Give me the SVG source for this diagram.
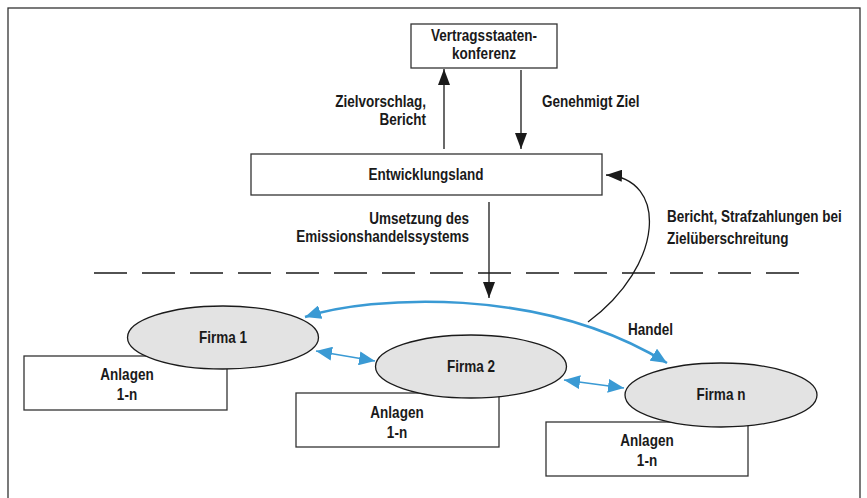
<svg xmlns="http://www.w3.org/2000/svg" width="867" height="498" viewBox="0 0 867 498">
<defs>
<style>
text{font-family:"Liberation Sans",Arial,sans-serif;font-weight:bold;font-size:16px;fill:#1a1a1a}
.c{text-anchor:middle}
.r{text-anchor:end}
.box{fill:#fff;stroke:#333;stroke-width:1.3}
.ell{fill:#e3e3e3;stroke:#1a1a1a;stroke-width:1.3}
.bl{fill:none;stroke:#1a1a1a;stroke-width:1.3}
.blue{fill:none;stroke:#3a9ad4}
</style>
<marker id="ab" markerUnits="userSpaceOnUse" markerWidth="16" markerHeight="12" refX="16" refY="6" orient="auto"><path d="M0,0 L16,6 L0,12 z" fill="#1a1a1a"/></marker>
<marker id="au" markerUnits="userSpaceOnUse" markerWidth="16" markerHeight="14" refX="16" refY="7" orient="auto-start-reverse"><path d="M0,0 L16,7 L0,14 z" fill="#3a9ad4"/></marker>
</defs>
<rect x="8" y="8" width="852" height="500" fill="none" stroke="#333" stroke-width="1.3"/>
<g id="connectors">
<line class="bl" x1="444" y1="149" x2="444" y2="69" marker-end="url(#ab)"/>
<line class="bl" x1="521" y1="70" x2="521" y2="149" marker-end="url(#ab)"/>
<line class="bl" x1="489" y1="202" x2="489" y2="298" marker-end="url(#ab)"/>
<path class="bl" d="M588,322 C665,265 668,178 606,175" marker-end="url(#ab)"/>
<line x1="94" y1="273" x2="799" y2="273" stroke="#1a1a1a" stroke-width="1.3" stroke-dasharray="33 15"/>
<path class="blue" stroke-width="2.5" d="M305,317 C370,296 540,285 667,363" marker-start="url(#au)" marker-end="url(#au)"/>
<line class="blue" stroke-width="1.5" x1="316" y1="351" x2="375" y2="361" marker-start="url(#au)" marker-end="url(#au)"/>
<line class="blue" stroke-width="1.5" x1="564" y1="380" x2="624" y2="388" marker-start="url(#au)" marker-end="url(#au)"/>
<text transform="translate(426 106.5) scale(0.845 1)" class="r">Zielvorschlag,</text>
<text transform="translate(426 124.5) scale(0.845 1)" class="r">Bericht</text>
<text transform="translate(542 106.5) scale(0.845 1)">Genehmigt Ziel</text>
<text transform="translate(469 224) scale(0.845 1)" class="r">Umsetzung des</text>
<text transform="translate(469 242) scale(0.845 1)" class="r">Emissionshandelssystems</text>
<text transform="translate(667 222) scale(0.845 1)">Bericht, Strafzahlungen bei</text>
<text transform="translate(667 244) scale(0.845 1)">Zielüberschreitung</text>
<text transform="translate(628 335) scale(0.845 1)">Handel</text>
</g>
<g id="vsk">
<rect class="box" x="411" y="24" width="146" height="44"/>
<text transform="translate(484 40.5) scale(0.845 1)" class="c">Vertragsstaaten-</text>
<text transform="translate(484 58.5) scale(0.845 1)" class="c">konferenz</text>
</g>
<g id="entwicklungsland">
<rect class="box" x="251" y="154" width="351" height="41"/>
<text transform="translate(426 180) scale(0.845 1)" class="c">Entwicklungsland</text>
</g>
<g id="anlagen1">
<rect class="box" x="24" y="356" width="203" height="54"/>
<text transform="translate(127 380) scale(0.845 1)" class="c">Anlagen</text>
<text transform="translate(127 400) scale(0.845 1)" class="c">1-n</text>
</g>
<g id="anlagen2">
<rect class="box" x="296" y="393" width="203" height="54"/>
<text transform="translate(397 418) scale(0.845 1)" class="c">Anlagen</text>
<text transform="translate(397 438) scale(0.845 1)" class="c">1-n</text>
</g>
<g id="anlagen3">
<rect class="box" x="546" y="422" width="202" height="54"/>
<text transform="translate(647 446) scale(0.845 1)" class="c">Anlagen</text>
<text transform="translate(647 466) scale(0.845 1)" class="c">1-n</text>
</g>
<g id="firma1">
<ellipse class="ell" cx="223" cy="337.5" rx="95.5" ry="31.5"/>
<text transform="translate(223 343) scale(0.845 1)" class="c">Firma 1</text>
</g>
<g id="firma2">
<ellipse class="ell" cx="471" cy="366.5" rx="95.5" ry="31.5"/>
<text transform="translate(471 372) scale(0.845 1)" class="c">Firma 2</text>
</g>
<g id="firman">
<ellipse class="ell" cx="721" cy="395" rx="96" ry="32"/>
<text transform="translate(721 400) scale(0.845 1)" class="c">Firma n</text>
</g>
</svg>
